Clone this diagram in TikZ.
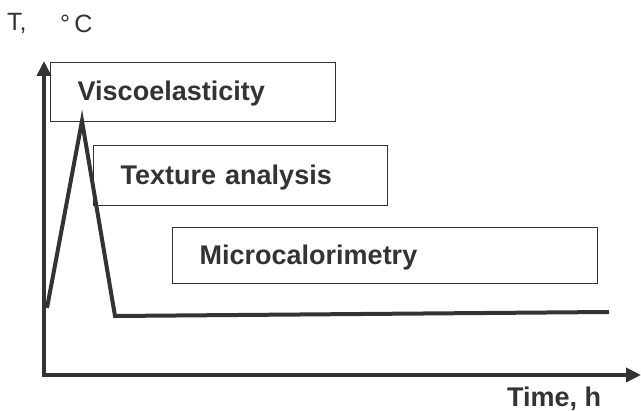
\documentclass[tikz,border=0pt]{standalone}
\usepackage{fontspec}
\setmainfont{Liberation Sans}
\usetikzlibrary{arrows.meta}
\definecolor{ink}{HTML}{333333}
\tikzset{
  axisline/.style={draw=ink, line width=4pt, -{Triangle[length=15pt,width=14pt]}},
  curve/.style={draw=ink, line width=4pt, line join=miter, miter limit=20},
  methodbox/.style={draw=ink, line width=1.4pt, anchor=north west, inner xsep=27pt, inner ysep=0pt,
    align=left, font=\fontsize{27}{30}\selectfont\bfseries, text=ink},
  lbl/.style={text=ink, inner sep=0pt}
}
\begin{document}
\begin{tikzpicture}[x=1pt,y=-1pt]
\useasboundingbox (0,0) rectangle (641,411);
\coordinate (o) at (44,375);
\coordinate (ytop) at (44,61);
\coordinate (xend) at (641,375);
\draw[axisline] ([yshift=-2pt]o) -- (ytop);
\draw[axisline] ([xshift=-2pt]o) -- (xend);
\coordinate (c0) at (47,308);
\coordinate (peak) at (82,121);
\coordinate (c2) at (115,316);
\coordinate (c3) at (609,312);
\draw[curve] (c0) -- (peak) -- (c2) -- (c3);
\node[methodbox, text width=231pt, minimum height=59pt, text depth=2pt] (visc) at (50,62) {Viscoelasticity};
\node[methodbox, text width=240pt, minimum height=60pt, text depth=2pt] (text) at (93,145) {Texture analysis};
\node[methodbox, text width=371pt, minimum height=56pt, text depth=2pt] (micro) at (172,227) {Microcalorimetry};
\node[lbl, anchor=west, font=\fontsize{25}{30}\selectfont] (tlab) at (7,24) {T,};
\node[lbl, anchor=west, font=\fontsize{25}{30}\selectfont] (clab) at (60,24) {°\,C};
\node[lbl, anchor=west, font=\fontsize{27}{30}\selectfont\bfseries] (timelab) at (507,399) {Time, h};
\end{tikzpicture}
\end{document}
